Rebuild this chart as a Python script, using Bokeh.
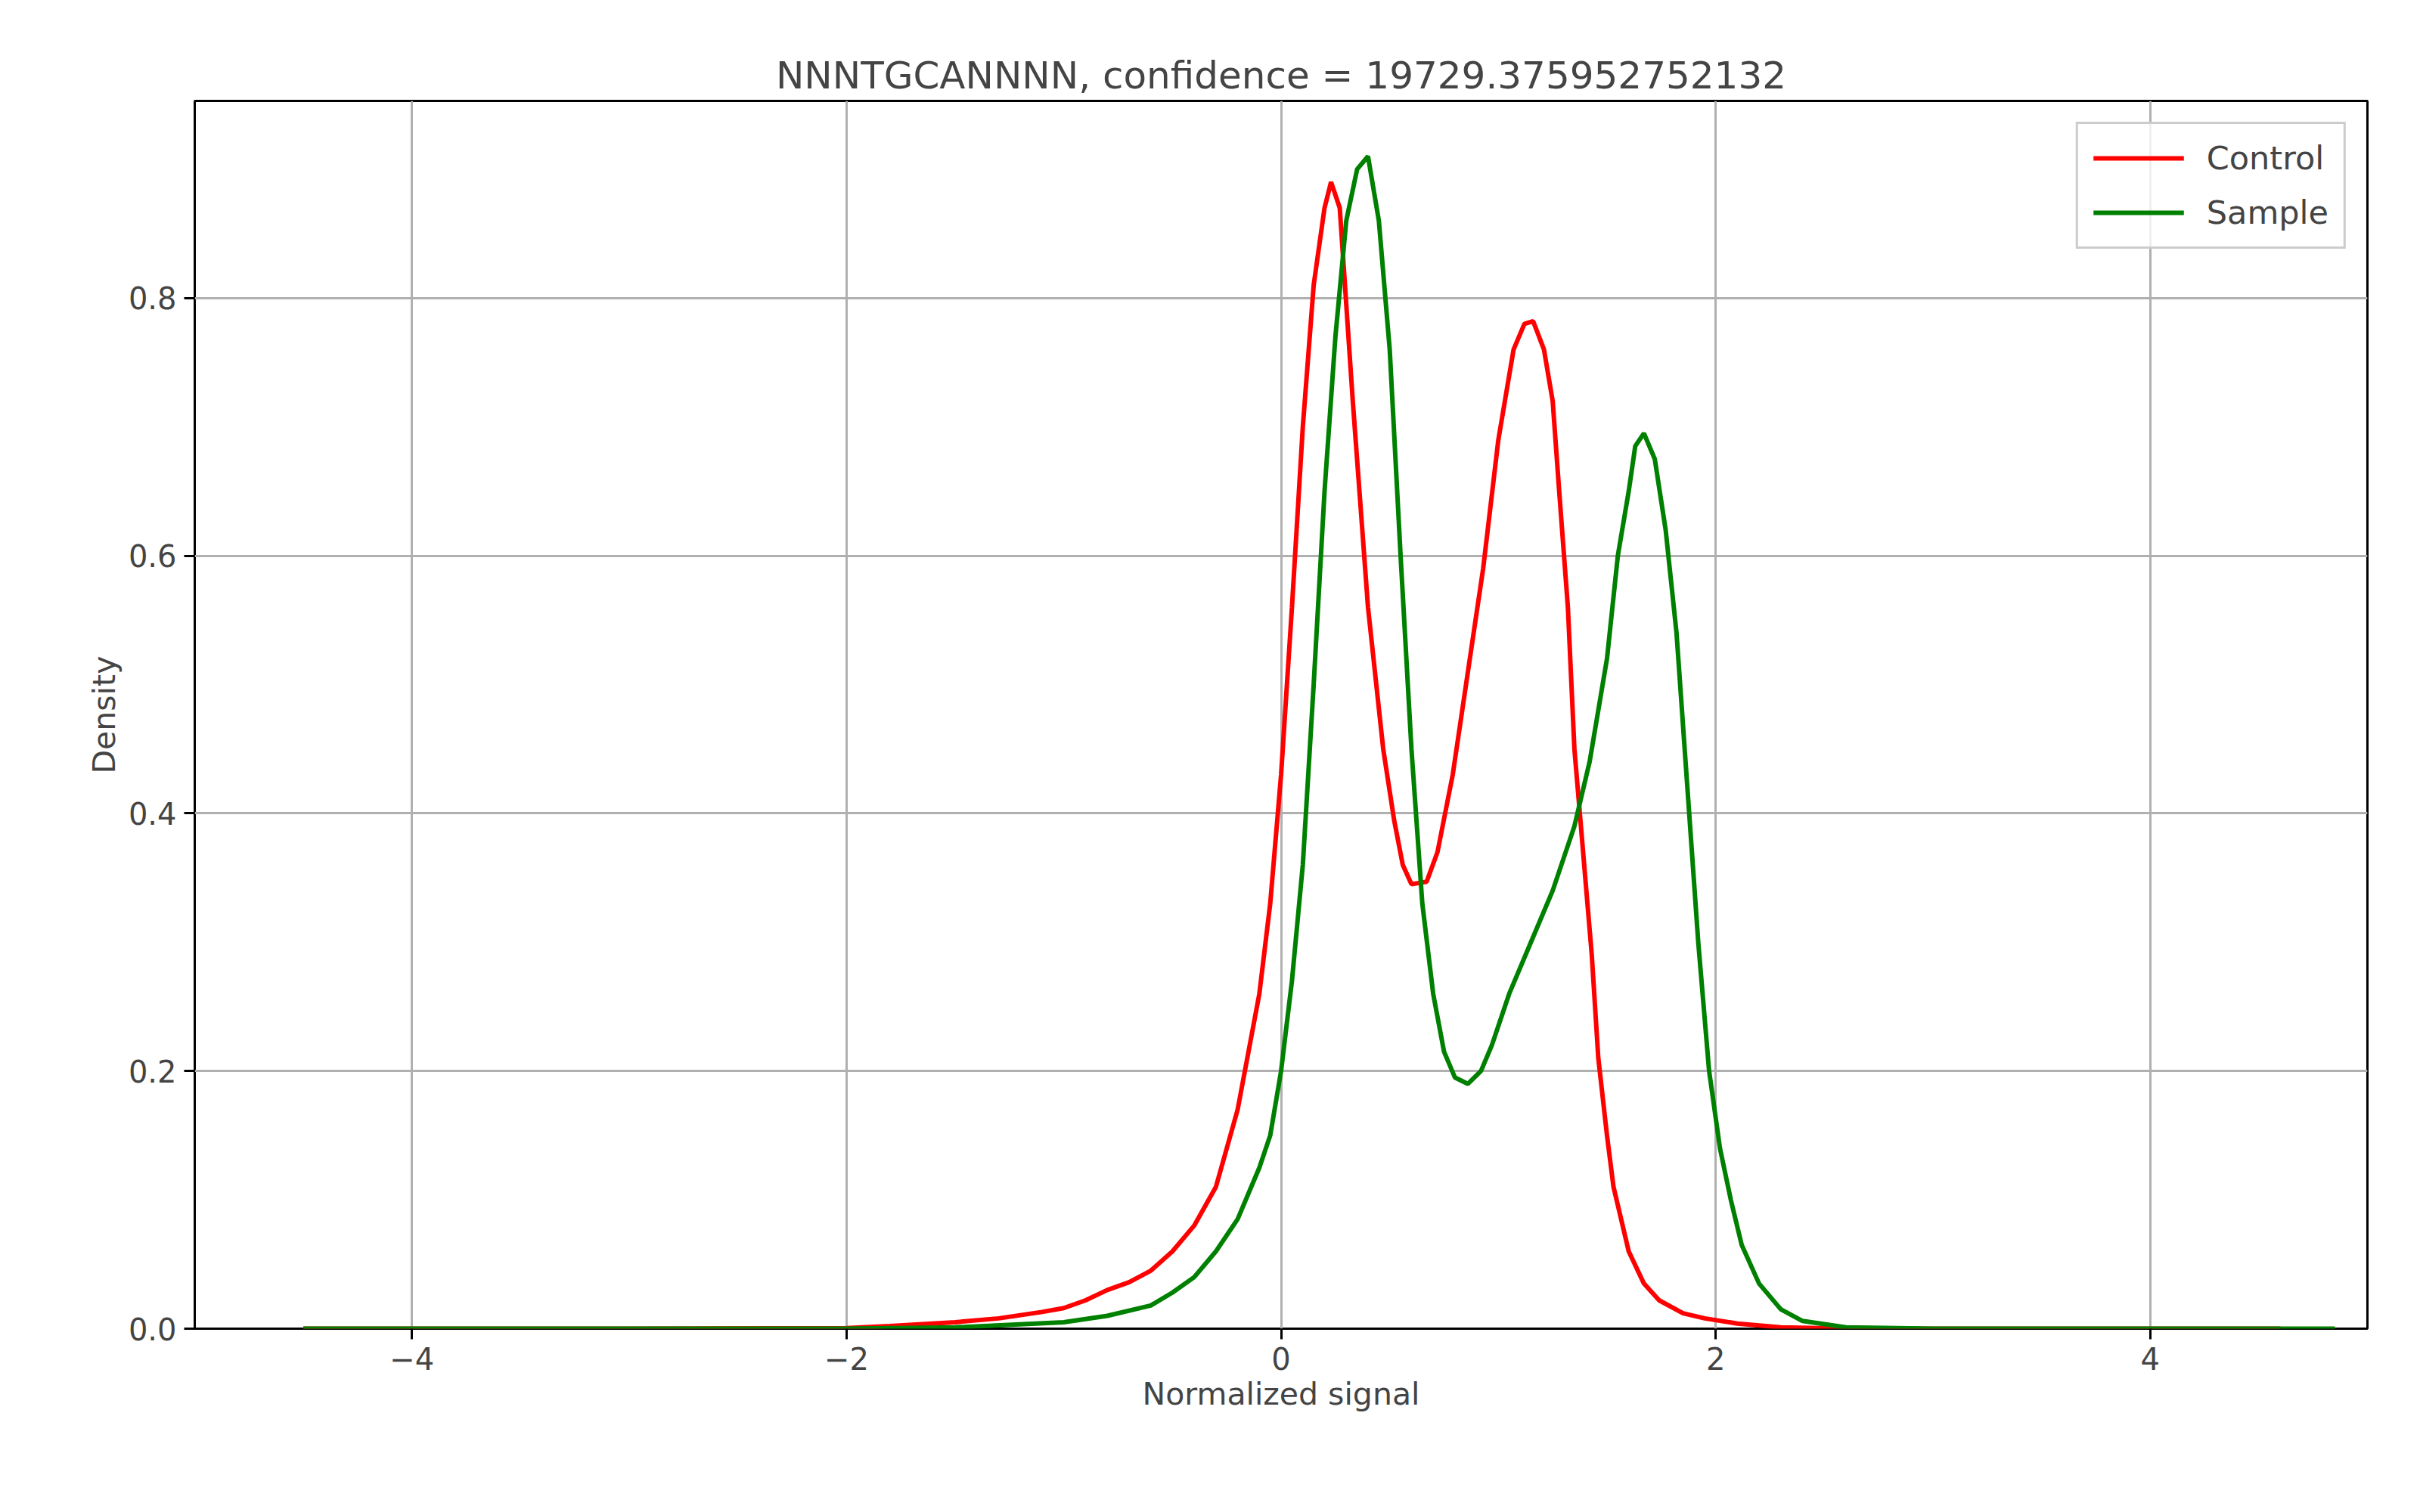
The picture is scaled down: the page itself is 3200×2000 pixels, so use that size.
from bokeh.plotting import figure
from bokeh.models import FixedTicker, Range1d, Legend, LegendItem
from bokeh.embed import file_html
from bokeh.resources import INLINE

# Control (red) density curve
ctrl_x = [-4.5, -3.0, -2.0, -1.8, -1.5, -1.3, -1.1, -1.0, -0.9, -0.8, -0.7, -0.6, -0.5, -0.4,
          -0.3, -0.2, -0.1, -0.05, 0.0, 0.05, 0.1, 0.15, 0.2, 0.23, 0.27, 0.33, 0.4, 0.47,
          0.52, 0.56, 0.6, 0.67, 0.72, 0.79, 0.86, 0.93, 1.0, 1.07, 1.12, 1.16, 1.21, 1.25,
          1.28, 1.32, 1.35, 1.39, 1.43, 1.46, 1.5, 1.53, 1.6, 1.67, 1.74, 1.85, 1.95, 2.1,
          2.3, 2.6, 4.6]
ctrl_y = [0.0, 0.0, 0.0005, 0.002, 0.005, 0.008, 0.013, 0.016, 0.022, 0.03, 0.036, 0.045,
          0.06, 0.08, 0.11, 0.17, 0.26, 0.33, 0.43, 0.56, 0.7, 0.81, 0.87, 0.89, 0.87, 0.72,
          0.56, 0.45, 0.395, 0.36, 0.345, 0.347, 0.37, 0.43, 0.51, 0.59, 0.69, 0.76, 0.78,
          0.782, 0.76, 0.72, 0.65, 0.56, 0.45, 0.37, 0.29, 0.21, 0.15, 0.11, 0.06, 0.035,
          0.022, 0.012, 0.008, 0.004, 0.001, 0.0, 0.0]

# Sample (green) density curve
samp_x = [-4.5, -3.0, -2.0, -1.5, -1.0, -0.8, -0.6, -0.5, -0.4, -0.3, -0.2, -0.1, -0.05, 0.0,
          0.05, 0.1, 0.15, 0.2, 0.25, 0.3, 0.35, 0.4, 0.45, 0.5, 0.55, 0.6, 0.65, 0.7, 0.75,
          0.8, 0.86, 0.92, 0.97, 1.05, 1.15, 1.25, 1.35, 1.42, 1.5, 1.55, 1.6, 1.63, 1.67,
          1.72, 1.77, 1.82, 1.87, 1.92, 1.97, 2.02, 2.07, 2.12, 2.2, 2.3, 2.4, 2.6, 3.0, 4.85]
samp_y = [0.0, 0.0, 0.0, 0.001, 0.005, 0.01, 0.018, 0.028, 0.04, 0.06, 0.085, 0.125, 0.15,
          0.2, 0.27, 0.36, 0.5, 0.65, 0.77, 0.86, 0.9, 0.91, 0.86, 0.76, 0.6, 0.45, 0.33,
          0.26, 0.215, 0.195, 0.19, 0.2, 0.22, 0.26, 0.3, 0.34, 0.39, 0.44, 0.52, 0.6, 0.65,
          0.685, 0.695, 0.675, 0.62, 0.54, 0.42, 0.3, 0.2, 0.14, 0.1, 0.065, 0.035, 0.015,
          0.006, 0.001, 0.0, 0.0]

x_ticks = [-4, -2, 0, 2, 4]
y_ticks = [0.0, 0.2, 0.4, 0.6, 0.8]

FONT = "DejaVu Sans"

p = figure(width=3180, height=1975, output_backend="svg", toolbar_location=None,
           title="NNNTGCANNNN, confidence = 19729.375952752132",
           x_range=Range1d(-5.0, 5.0), y_range=Range1d(0, 0.953),
           min_border_left=257, min_border_right=50, min_border_top=133, min_border_bottom=218)

p.title.align = "center"
p.title.text_font = FONT
p.title.text_font_size = "50px"
p.title.text_font_style = "normal"
p.title.offset = 0

p.outline_line_color = "black"
p.outline_line_width = 3

for ax in (p.xaxis, p.yaxis):
    ax.axis_label_text_font = FONT
    ax.axis_label_text_font_size = "41px"
    ax.axis_label_text_font_style = "normal"
    ax.major_label_text_font = FONT
    ax.major_label_text_font_size = "40px"
    ax.minor_tick_line_color = None
    ax.major_tick_in = 0
    ax.major_tick_out = 14
    ax.major_tick_line_width = 3
    ax.axis_line_color = None
    ax.major_label_standoff = 10

p.xaxis.axis_label = "Normalized signal"
p.yaxis.axis_label = "Density"
p.xaxis.ticker = FixedTicker(ticks=x_ticks)
p.yaxis.ticker = FixedTicker(ticks=y_ticks)
p.xaxis.major_label_overrides = {t: (str(t).replace("-", "\u2212")) for t in x_ticks}
p.yaxis.major_label_overrides = {t: f"{t:.1f}" for t in y_ticks}

p.grid.grid_line_color = "#b0b0b0"
p.grid.grid_line_width = 3

r1 = p.line(ctrl_x, ctrl_y, line_color="red", line_width=6)
r2 = p.line(samp_x, samp_y, line_color="green", line_width=6)

legend = Legend(items=[LegendItem(label="Control", renderers=[r1]),
                       LegendItem(label="Sample", renderers=[r2])],
                location="top_right", label_text_font=FONT, label_text_font_size="43px",
                border_line_color="#cccccc", border_line_width=3, border_line_alpha=1,
                background_fill_alpha=0.8, glyph_width=120, glyph_height=40,
                label_standoff=30, spacing=22, padding=20, margin=28)
p.add_layout(legend)

open("out.html", "w").write(file_html(p, INLINE))
